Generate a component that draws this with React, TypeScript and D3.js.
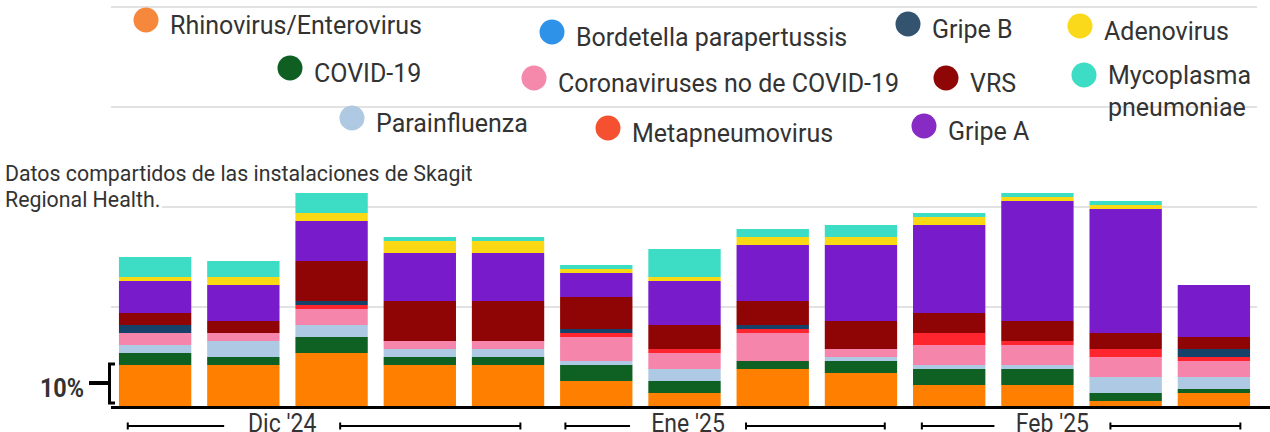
import React from "react";
import * as d3 from "d3";

// weekly share of positive tests (%), Skagit Regional Health
const weeks = [
  "2024-12-01", "2024-12-08", "2024-12-15", "2024-12-22", "2024-12-29",
  "2025-01-05", "2025-01-12", "2025-01-19", "2025-01-26",
  "2025-02-02", "2025-02-09", "2025-02-16", "2025-02-23",
];

const rhino = [10.5, 10.5, 13.5, 10.5, 10.5, 6.5, 3.5, 9.5, 8.5, 5.5, 5.5, 1.5, 3.5];
const covid = [3, 2, 4, 2, 2, 4, 3, 2, 3, 4, 4, 2, 1];
const para = [2, 4, 3, 2, 2, 1, 3, 0, 1, 1, 1, 4, 3];
const corona = [3, 2, 4, 2, 2, 6, 4, 7, 2, 5, 5, 5, 4];
const metapneumo = [0, 0, 1, 0, 0, 1, 1, 1, 0, 3, 1, 2, 1];
const gripeB = [2, 0, 1, 0, 0, 1, 0, 1, 0, 0, 0, 0, 2];
const vrs = [3, 3, 10, 10, 10, 8, 6, 6, 7, 5, 5, 4, 3];
const gripeA = [8, 9, 10, 12, 12, 6, 11, 14, 19, 22, 30, 31, 13];
const adeno = [1, 2, 2, 3, 3, 1, 1, 2, 2, 2, 1, 1, 0];
const myco = [5, 4, 5, 1, 1, 1, 7, 2, 3, 1, 1, 1, 0];
const bordetella = [0, 0, 0, 0, 0, 0, 0, 0, 0, 0, 0, 0, 0];

// month brackets, in week-index units
const months = ["Dic '24", "Ene '25", "Feb '25"];
const monthStart = [-0.31, 4.65, 8.69];
const monthEnd = [4.14, 8.27, 12.3];
const monthMid = [1.44, 6.04, 10.17];

const gridTicks = [25, 50, 75, 100];

const keys = ["rhino", "covid", "para", "corona", "metapneumo", "gripeB", "vrs", "gripeA", "adeno", "myco", "bordetella"];
const values: Record<string, number[]> = { rhino, covid, para, corona, metapneumo, gripeB, vrs, gripeA, adeno, myco, bordetella };

const barColor: Record<string, string> = {
  rhino: "#ff8000", covid: "#0e6122", para: "#adc9e4", corona: "#f585aa", metapneumo: "#ff252f",
  gripeB: "#16426a", vrs: "#8f0404", gripeA: "#781ccb", adeno: "#fad814", myco: "#3ddcc4", bordetella: "#2e93e8",
};
const dotColor: Record<string, string> = {
  rhino: "#f5883d", covid: "#0f5e22", para: "#afc9e3", corona: "#f589ab", metapneumo: "#f5502f",
  gripeB: "#34536f", vrs: "#8e0605", gripeA: "#872bc4", adeno: "#fad81a", myco: "#3ddcc4", bordetella: "#2e93e8",
};

// legend: label lines + where the dot sits
const legend = [
  { key: "rhino", lines: ["Rhinovirus/Enterovirus"], x: 146, y: 20 },
  { key: "bordetella", lines: ["Bordetella parapertussis"], x: 552, y: 32 },
  { key: "gripeB", lines: ["Gripe B"], x: 908, y: 24 },
  { key: "adeno", lines: ["Adenovirus"], x: 1080, y: 26 },
  { key: "covid", lines: ["COVID-19"], x: 290, y: 68 },
  { key: "corona", lines: ["Coronaviruses no de COVID-19"], x: 534, y: 78 },
  { key: "vrs", lines: ["VRS"], x: 946, y: 78 },
  { key: "myco", lines: ["Mycoplasma", "pneumoniae"], x: 1084, y: 75 },
  { key: "para", lines: ["Parainfluenza"], x: 352, y: 118 },
  { key: "metapneumo", lines: ["Metapneumovirus"], x: 608, y: 128 },
  { key: "gripeA", lines: ["Gripe A"], x: 924, y: 126 },
];

const W = 1270;
const H = 432;
const FONT = "Roboto, 'Noto Sans', sans-serif";
const INK = "#333";

// text with an optional horizontal squeeze (the original uses a condensed face)
const CText = ({ x, y, size, children, sx = 1, anchor = "start", weight = 400, fill = INK }: any) => (
  <text
    transform={`translate(${x},${y}) scale(${sx},1)`}
    fontFamily={FONT}
    fontSize={size}
    fontWeight={weight}
    textAnchor={anchor}
    fill={fill}
  >
    {children}
  </text>
);

export default function App() {
  const table = weeks.map((w, i) => {
    const row: any = { week: w };
    keys.forEach((k) => (row[k] = values[k][i]));
    return row;
  });
  const stacked = d3.stack<any>().keys(keys)(table);

  const x = d3.scaleBand().domain(weeks).range([111, 1258]).paddingInner(0.18).paddingOuter(0.09);
  const y = d3.scaleLinear().domain([0, 100]).range([407, 7]);
  const bw = x.bandwidth();
  const wx = d3
    .scaleLinear()
    .domain([0, weeks.length - 1])
    .range([(x(weeks[0]) as number) + bw / 2, (x(weeks[weeks.length - 1]) as number) + bw / 2]);

  const axisY = 426;
  const gap = 58;

  return (
    <svg width={W} height={H} style={{ position: "absolute", left: 0, top: 0, background: "#fff" }}>
      {/* gridlines */}
      {gridTicks.map((t) => (
        <line key={t} x1={111} x2={1257} y1={y(t)} y2={y(t)} stroke="#e2e2e2" strokeWidth={2} />
      ))}

      {/* note */}
      <rect x={0} y={188} width={162} height={26} fill="#fff" />
      <CText x={5} y={181} size={22} sx={0.97}>Datos compartidos de las instalaciones de Skagit</CText>
      <CText x={5} y={207} size={22} sx={0.97}>Regional Health.</CText>

      {/* legend */}
      {legend.map((d) => (
        <g key={d.key}>
          <circle cx={d.x} cy={d.y} r={12.5} fill={dotColor[d.key]} />
          {d.lines.map((l, j) => (
            <CText key={j} x={d.x + 24} y={d.y + (d.lines.length > 1 ? 9 : 14) + j * 32} size={25}>
              {l}
            </CText>
          ))}
        </g>
      ))}

      {/* bars */}
      {stacked.map((s) => (
        <g key={s.key} fill={barColor[s.key]}>
          {s.map((d, i) => (
            <rect
              key={i}
              x={x(weeks[i])}
              width={bw}
              y={y(d[1])}
              height={Math.max(0, y(d[0]) - y(d[1]))}
            />
          ))}
        </g>
      ))}

      {/* baseline */}
      <line x1={111} x2={W} y1={407.5} y2={407.5} stroke="#000" strokeWidth={3} />

      {/* 10% scale key */}
      <path d={`M115,${y(0) - 43} H109.5 V${y(0) - 4} H115`} fill="none" stroke="#000" strokeWidth={3} />
      <line x1={89} x2={109} y1={383} y2={383} stroke="#000" strokeWidth={4} />
      <CText x={84} y={397} size={26} sx={0.9} weight={700} anchor="end">10%</CText>

      {/* month brackets */}
      {months.map((m, i) => {
        const cx = wx(monthMid[i]);
        const x0 = wx(monthStart[i]);
        const x1 = wx(monthEnd[i]);
        return (
          <g key={m} stroke="#000" strokeWidth={2}>
            <line x1={x0} x2={cx - gap} y1={axisY} y2={axisY} />
            <line x1={x0} x2={x0} y1={axisY - 3.5} y2={axisY + 3.5} />
            <line x1={cx + gap} x2={x1} y1={axisY} y2={axisY} />
            <line x1={cx + gap} x2={cx + gap} y1={axisY - 3.5} y2={axisY + 3.5} />
            <line x1={x1} x2={x1} y1={axisY - 3.5} y2={axisY + 3.5} />
            <g stroke="none">
              <CText x={cx} y={432} size={25} sx={0.92} anchor="middle">{m}</CText>
            </g>
          </g>
        );
      })}
    </svg>
  );
}
